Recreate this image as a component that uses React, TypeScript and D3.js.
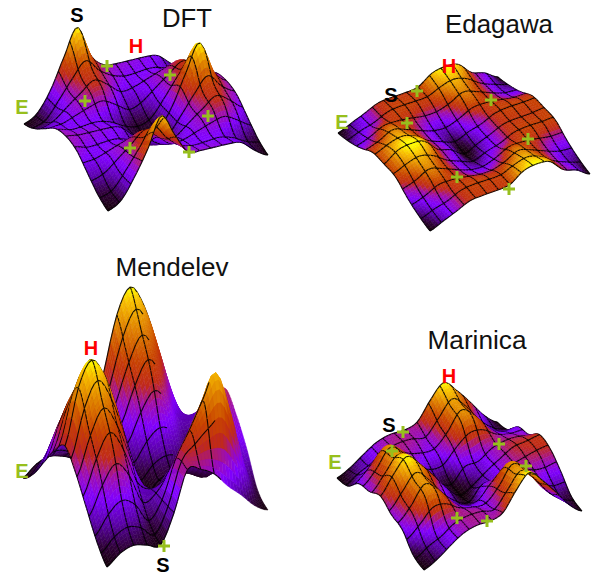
import React, { useMemo } from "react";
import * as d3 from "d3";

const dftHeights = [
  [0, 8, 32, 68, 100, 58, 40, 36, 34, 32, 28, 12, 0],
  [8, 12, 30, 48, 62, 48, 36, 30, 30, 30, 24, 14, 8],
  [22, 26, 34, 42, 50, 38, 22, 26, 34, 42, 50, 38, 22],
  [36, 30, 30, 30, 24, 14, 8, 12, 30, 48, 62, 48, 36],
  [40, 36, 34, 32, 28, 12, 0, 8, 32, 68, 100, 58, 40],
  [36, 30, 30, 30, 24, 14, 8, 12, 30, 48, 62, 48, 36],
  [22, 26, 34, 42, 50, 38, 22, 26, 34, 42, 50, 38, 22],
  [8, 12, 30, 50, 68, 50, 36, 30, 30, 30, 24, 14, 8],
  [0, 8, 32, 62, 98, 68, 40, 36, 34, 32, 28, 12, 0],
];
const edagawaHeights = [
  [0, 18, 36, 55, 58, 58, 62, 92, 100, 92, 48, 30, 0],
  [12, 28, 40, 58, 62, 60, 60, 76, 88, 72, 44, 24, 12],
  [32, 46, 72, 62, 48, 34, 32, 46, 72, 62, 48, 34, 32],
  [60, 76, 88, 72, 44, 24, 12, 28, 40, 58, 62, 60, 60],
  [62, 92, 100, 92, 48, 30, 0, 18, 36, 55, 58, 58, 62],
  [60, 76, 88, 72, 44, 24, 12, 28, 40, 58, 62, 60, 60],
  [32, 46, 72, 62, 48, 34, 32, 46, 72, 62, 48, 34, 32],
  [12, 28, 40, 58, 62, 60, 60, 76, 88, 72, 44, 24, 12],
  [0, 18, 36, 55, 58, 58, 62, 92, 100, 92, 48, 30, 0],
];
const mendelevHeights = [
  [0, 6, 8, 5, 2, 15, 50, 85, 100, 85, 55, 15, 0],
  [10, 20, 25, 20, 8, 15, 40, 65, 80, 65, 40, 15, 10],
  [25, 45, 58, 45, 22, 20, 25, 45, 58, 45, 22, 20, 25],
  [40, 65, 80, 65, 40, 15, 10, 20, 25, 20, 8, 15, 40],
  [50, 85, 100, 85, 55, 15, 0, 6, 8, 5, 2, 15, 50],
  [40, 65, 80, 65, 40, 15, 10, 20, 25, 20, 8, 15, 40],
  [25, 45, 58, 45, 22, 20, 25, 35, 48, 60, 40, 22, 25],
  [10, 20, 25, 20, 8, 20, 45, 60, 76, 90, 62, 25, 6],
  [0, 6, 8, 5, 2, 20, 45, 42, 36, 25, 16, 6, 0],
];
const marinicaHeights = [
  [0, 10, 25, 38, 43, 42, 48, 78, 100, 78, 50, 20, 0],
  [6, 20, 30, 42, 44, 42, 36, 60, 85, 65, 34, 14, 6],
  [30, 50, 78, 66, 40, 28, 30, 50, 78, 66, 40, 28, 30],
  [36, 60, 85, 65, 34, 14, 6, 30, 30, 42, 44, 42, 36],
  [48, 78, 100, 78, 50, 20, 0, 10, 25, 38, 50, 52, 55],
  [36, 60, 85, 65, 34, 14, 6, 30, 30, 42, 44, 48, 50],
  [30, 50, 78, 66, 40, 28, 30, 50, 78, 66, 40, 28, 30],
  [6, 20, 30, 42, 44, 42, 36, 60, 85, 65, 34, 14, 6],
  [0, 10, 25, 38, 43, 42, 48, 78, 100, 78, 50, 20, 0],
];

const colourStops = [0, 8, 18, 30, 42, 52, 64, 80, 93, 100];
const colourValues = ["#140008", "#30003c", "#5a00a8", "#8000ff", "#a010a8", "#c02a18", "#c84400", "#e08400", "#f8c000", "#ffff00"];
const GREEN = "#97bf1d";

type Pt = [number, number];
interface Panel {
  heights: number[][];
  L: Pt; B: Pt; R: Pt; T: Pt;
  unit: number;
  linesA: number; linesB: number;
  lineBMax: number;
  title: string; titleX: number; titleY: number; titleLen: number;
  labels: { t: string; x: number; y: number; c: string }[];
  plus: Pt[];
}

const panels: Panel[] = [
  {
    heights: dftHeights, L: [24, 124], B: [108, 211], R: [268, 155], T: [184, 68], unit: 78,
    linesA: 10, linesB: 14, lineBMax: 1,
    title: "DFT", titleX: 187, titleY: 27, titleLen: 50,
    labels: [
      { t: "S", x: 77, y: 22, c: "#000" },
      { t: "H", x: 136, y: 53, c: "#f00" },
      { t: "E", x: 22, y: 114, c: GREEN },
    ],
    plus: [[107, 66], [85, 101], [130, 148], [189, 152], [208, 116], [170, 75]],
  },
  {
    heights: edagawaHeights, L: [338, 133], B: [430, 231], R: [590, 174], T: [498, 77], unit: 29,
    linesA: 10, linesB: 14, lineBMax: 1,
    title: "Edagawa", titleX: 499, titleY: 33, titleLen: 108,
    labels: [
      { t: "S", x: 391, y: 102, c: "#000" },
      { t: "H", x: 449, y: 73, c: "#f00" },
      { t: "E", x: 342, y: 129, c: GREEN },
    ],
    plus: [[417, 91], [407, 123], [491, 100], [528, 139], [457, 177], [509, 189]],
  },
  {
    heights: mendelevHeights, L: [23, 478], B: [107, 567], R: [268, 510], T: [184, 421], unit: 153,
    linesA: 14, linesB: 12, lineBMax: 0.7,
    title: "Mendelev", titleX: 172, titleY: 276, titleLen: 113,
    labels: [
      { t: "H", x: 91, y: 355, c: "#f00" },
      { t: "E", x: 22, y: 478, c: GREEN },
      { t: "S", x: 163, y: 572, c: "#000" },
    ],
    plus: [[164, 546]],
  },
  {
    heights: marinicaHeights, L: [337, 478], B: [424, 570], R: [582, 511], T: [497, 422], unit: 58,
    linesA: 10, linesB: 14, lineBMax: 1,
    title: "Marinica", titleX: 477, titleY: 349, titleLen: 99,
    labels: [
      { t: "H", x: 449, y: 383, c: "#f00" },
      { t: "S", x: 389, y: 432, c: "#000" },
      { t: "E", x: 335, y: 469, c: GREEN },
    ],
    plus: [[403, 432], [392, 451], [499, 444], [526, 466], [457, 518], [487, 521]],
  },
];

const colour = d3.scaleLinear<string>().domain(colourStops).range(colourValues).interpolate(d3.interpolateRgb).clamp(true);

const cr = (p0: number, p1: number, p2: number, p3: number, t: number) =>
  0.5 * (2 * p1 + (p2 - p0) * t + (2 * p0 - 5 * p1 + 4 * p2 - p3) * t * t + (3 * p1 - p0 - 3 * p2 + p3) * t * t * t);

function height(g: number[][], a: number, b: number) {
  const rows = g.length - 1, cols = g[0].length - 1;
  const fa = Math.min(a * rows, rows - 1e-6), fb = Math.min(b * cols, cols - 1e-6);
  const ia = Math.floor(fa), ib = Math.floor(fb);
  const ta = fa - ia, tb = fb - ib;
  const at = (r: number, c: number) => g[Math.max(0, Math.min(rows, r))][Math.max(0, Math.min(cols, c))];
  const row = (r: number) => cr(at(r, ib - 1), at(r, ib), at(r, ib + 1), at(r, ib + 2), tb);
  return Math.max(0, cr(row(ia - 1), row(ia), row(ia + 1), row(ia + 2), ta));
}

function Surface({ p }: { p: Panel }) {
  const items = useMemo(() => {
    const kA = 5, kB = 4;
    const nA = p.linesA * kA, nB = p.linesB * kB;
    const aScale = d3.scaleLinear().domain([0, nA]).range([0, 1]);
    const bScale = d3.scaleLinear().domain([0, nB]).range([0, 1]);
    const zScale = d3.scaleLinear().domain([0, 100]).range([0, p.unit]);
    const pts: { x: number; y: number; z: number }[][] = [];
    for (let i = 0; i <= nA; i++) {
      const row = [];
      const a = aScale(i);
      for (let j = 0; j <= nB; j++) {
        const b = bScale(j);
        const z = height(p.heights, a, b);
        const x = (1 - a) * (1 - b) * p.L[0] + a * (1 - b) * p.B[0] + a * b * p.R[0] + (1 - a) * b * p.T[0];
        const y = (1 - a) * (1 - b) * p.L[1] + a * (1 - b) * p.B[1] + a * b * p.R[1] + (1 - a) * b * p.T[1];
        row.push({ x, y: y - zScale(z), z });
      }
      pts.push(row);
    }
    const line = d3.line<{ x: number; y: number }>().x((d) => d.x).y((d) => d.y).digits(1);
    const out: React.ReactNode[] = [];
    for (let i = 0; i < nA; i++) {
      for (let j = nB - 1; j >= 0; j--) {
        const q = [pts[i][j], pts[i + 1][j], pts[i + 1][j + 1], pts[i][j + 1]];
        const z = (q[0].z + q[1].z + q[2].z + q[3].z) / 4;
        const c = colour(z);
        out.push(<path key={`f${i}-${j}`} d={line(q) + "Z"} fill={c} stroke={c} strokeWidth={0.5} />);
        const segs: string[] = [];
        const bv = j / nB;
        if (bv < p.lineBMax) {
          if (i % kA === 0) segs.push(line([q[0], q[3]]) as string);
          if (i + 1 === nA) segs.push(line([q[1], q[2]]) as string);
          if ((j + 1) % kB === 0) segs.push(line([q[3], q[2]]) as string);
          if (j === 0) segs.push(line([q[0], q[1]]) as string);
        } else if (i === 0) {
          segs.push(line([q[0], q[3]]) as string);
        }
        if (segs.length) out.push(<path key={`l${i}-${j}`} d={segs.join("")} fill="none" stroke="#000" strokeOpacity={0.9} strokeWidth={1.1} />);
      }
    }
    return out;
  }, [p]);
  return <g>{items}</g>;
}

export default function App() {
  return (
    <svg width={591} height={575} viewBox="0 0 591 575" style={{ position: "absolute", left: 0, top: 0, background: "#fff" }} fontFamily="'Liberation Sans', Arial, sans-serif">
      {panels.map((p) => (
        <g key={p.title}>
          <Surface p={p} />
          <text x={p.titleX} y={p.titleY} textAnchor="middle" fontSize={25} fill="#111" textLength={p.titleLen} lengthAdjust="spacingAndGlyphs">{p.title}</text>
          {p.labels.map((l) => (
            <text key={l.t} x={l.x} y={l.y} textAnchor="middle" fontSize={20} fontWeight="bold" fill={l.c}>{l.t}</text>
          ))}
          {p.plus.map(([x, y], i) => (
            <path key={i} d={`M${x - 6},${y}H${x + 6}M${x},${y - 6}V${y + 6}`} stroke={GREEN} strokeWidth={3} fill="none" />
          ))}
        </g>
      ))}
    </svg>
  );
}
